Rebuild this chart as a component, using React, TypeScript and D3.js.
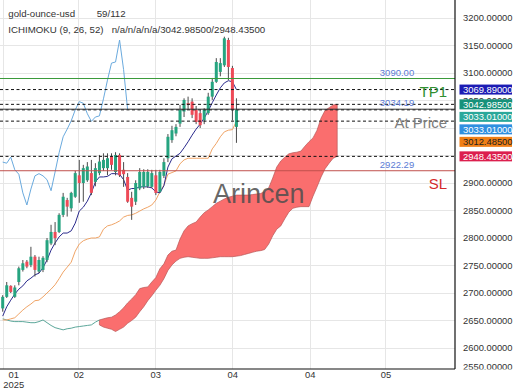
import React from "react";
import * as d3 from "d3";

// ---------- data ----------
const opens = [2672, 2693, 2713, 2693, 2720, 2742, 2757, 2751, 2766, 2739, 2742, 2760, 2790, 2811, 2811, 2842, 2869, 2854, 2875, 2914, 2900, 2905, 2918, 2902, 2918, 2927, 2927, 2948, 2920, 2951, 2924, 2911, 2873, 2866, 2890, 2893, 2894, 2893, 2914, 2884, 2913, 2945, 2978, 2990, 3008, 3030, 3045, 3048, 3033, 3027, 3014, 3027, 3057, 3084, 3102, 3114, 3160, 3109, 3002];
const highs = [2696, 2720, 2714, 2714, 2748, 2760, 2760, 2784, 2769, 2766, 2767, 2800, 2824, 2829, 2845, 2882, 2873, 2884, 2922, 2942, 2933, 2938, 2942, 2936, 2951, 2954, 2954, 2954, 2956, 2954, 2938, 2918, 2884, 2905, 2927, 2925, 2925, 2924, 2924, 2924, 2945, 2989, 3004, 3007, 3042, 3054, 3057, 3054, 3040, 3033, 3036, 3064, 3091, 3127, 3127, 3166, 3164, 3113, 3054];
const lows = [2666, 2691, 2700, 2691, 2714, 2739, 2745, 2747, 2730, 2736, 2738, 2756, 2787, 2787, 2809, 2838, 2839, 2848, 2873, 2864, 2866, 2902, 2878, 2894, 2914, 2922, 2914, 2924, 2914, 2911, 2893, 2864, 2833, 2860, 2887, 2889, 2891, 2891, 2878, 2882, 2909, 2938, 2973, 2985, 3002, 3020, 3033, 3018, 3007, 3000, 3007, 3024, 3051, 3082, 3094, 3111, 3087, 3014, 2973];
const closes = [2693, 2714, 2702, 2710, 2745, 2754, 2748, 2766, 2742, 2760, 2764, 2796, 2811, 2800, 2842, 2875, 2857, 2882, 2918, 2900, 2927, 2930, 2882, 2927, 2939, 2942, 2945, 2933, 2951, 2914, 2916, 2866, 2857, 2900, 2920, 2920, 2920, 2918, 2882, 2920, 2938, 2984, 2996, 3002, 3033, 3051, 3042, 3024, 3011, 3005, 3033, 3057, 3084, 3120, 3118, 3163, 3111, 3033, 3033.01];

const tenkan = [2658, 2675, 2687, 2698, 2707, 2713, 2722, 2727, 2733, 2736, 2746, 2760, 2778, 2791, 2802, 2809, 2809, 2813, 2827, 2849, 2856, 2867, 2882, 2902, 2911, 2911, 2912, 2917, 2917, 2916, 2906, 2887, 2890, 2890, 2893, 2893, 2893, 2891, 2884, 2882, 2895, 2929, 2944, 2949, 2954, 2964, 2975, 2987, 2998, 3007, 3018, 3031, 3046, 3060, 3073, 3082, 3086, 3084, 3069.89];
const kijun = [2651, 2651, 2653, 2655, 2662, 2669, 2675, 2680, 2686, 2687, 2693, 2700, 2707, 2715, 2726, 2738, 2747, 2756, 2776, 2789, 2795, 2798, 2800, 2800, 2802, 2816, 2822, 2824, 2827, 2831, 2838, 2841, 2842, 2845, 2849, 2853, 2856, 2860, 2869, 2884, 2896, 2916, 2919, 2922, 2935, 2942, 2945, 2945, 2945, 2945, 2945, 2945, 2962, 2972, 2984, 2993, 2996, 2997, 3012.485];
const chikou = [2938, 2936, 2947, 2924, 2916, 2882, 2860, 2889, 2913, 2917, 2913, 2906, 2886, 2920, 2955, 2984, 2998, 3013, 3033, 3048, 3045, 3026, 3012, 3020, 3022, 3053, 3087, 3118, 3120, 3160, 3106, 3033.01];
const leadLine = [2653, 2651, 2649, 2648, 2648, 2648, 2647, 2646, 2646, 2648, 2651, 2646, 2641, 2637, 2635, 2633, 2635, 2636, 2638, 2639, 2640, 2641, 2642, 2647, 2651];
const CLOUD_START = 24;
const spanA = [2651, 2653, 2655, 2656, 2660, 2666, 2673, 2682, 2689, 2697, 2708, 2710, 2711, 2720, 2728, 2744, 2753, 2769, 2776, 2778, 2798, 2813, 2822, 2826, 2829, 2838, 2846, 2851, 2857, 2863, 2867, 2871, 2874, 2876, 2878, 2878, 2878, 2878, 2879, 2880, 2881, 2884, 2891, 2909, 2929, 2940, 2947, 2953, 2955, 2956, 2958, 2967, 2975, 2982, 2996, 3018, 3032, 3037, 3042, 3042.985];
const spanB = [2642, 2638, 2636, 2634, 2630, 2634, 2638, 2645, 2650, 2656, 2666, 2675, 2686, 2695, 2705, 2714, 2726, 2741, 2751, 2758, 2763, 2765, 2766, 2765, 2764, 2763, 2763, 2763, 2764, 2765, 2766, 2766, 2766, 2766, 2767, 2768, 2770, 2772, 2774, 2776, 2777, 2779, 2789, 2804, 2816, 2822, 2835, 2847, 2854, 2856, 2857, 2857, 2857, 2876, 2893, 2911, 2926, 2936, 2945, 2948.435];

const TOTAL_SLOTS = 112;
const xTickIdx = [2.75, 18.9, 38, 57.1, 76.3, 95.1];
const xGridIdx = [0.3, 18.9, 38, 57.1, 76.3, 95.1];
const xTickLabels = ["01", "02", "03", "04", "04", "05"];
const yTickValues = d3.range(2550, 3201, 50);

const levelPrices = [3090, 3034.19, 2922.29];
const levelTags = ["TP1", "At Price", "SL"];
const dashedLevels = [3069.89, 3042.985, 3033.01, 3012.485, 2948.435];
const axisTagValues = [3069.89, 3042.985, 3033.01, 3033.01, 3012.485, 2948.435];

// ---------- styles ----------
const FONT = '"Liberation Sans", Arial, Helvetica, sans-serif';
const UP = "#26a480";
const DOWN = "#ee4a57";
const levelLineColors = ["#3b9a3b", "#333333", "#c0504d"];
const levelTagColors = ["#2f8f2f", "#7d7d7d", "#d42a2a"];
const axisTagFill = ["#1c1cb4", "#17917a", "#2aa89a", "#2f8fe0", "#f07f16", "#dc1f4e"];
const axisTagText = ["#ffffff", "#ffffff", "#ffffff", "#ffffff", "#222222", "#ffffff"];

export default function App() {
  const W = 520, H = 390;
  const plotRight = 455, plotBottom = 369;
  const x = d3.scaleLinear().domain([0, TOTAL_SLOTS - 1]).range([2.7, 2.7 + (TOTAL_SLOTS - 1) * 4.03]);
  const y = d3.scaleLinear().domain([2600, 3200]).range([348, 18]);

  const mkLine = (offset: number) =>
    d3.line<number>().x((_, i) => x(i + offset)).y((v) => y(v));
  const cloud = d3
    .area<number>()
    .x((_, i) => x(i + CLOUD_START))
    .y0((_, i) => y(spanB[i]))
    .y1((v) => y(v));

  let prev = -Infinity;
  const tags = axisTagValues.map((v, i) => {
    const cy = Math.max(y(v), prev + 12.5);
    prev = cy;
    return { v, cy, i };
  });

  const fmt5 = d3.format(".5f");
  const fmt2 = d3.format(".2f");

  return (
    <svg width={W} height={H} style={{ position: "absolute", left: 0, top: 0, background: "#fff" }} fontFamily={FONT}>
      <defs>
        <clipPath id="axisClip">
          <rect x={455} y={0} width={65} height={plotBottom + 0.5} />
        </clipPath>
        <clipPath id="plotClip">
          <rect x={0} y={0} width={plotRight} height={plotBottom} />
        </clipPath>
      </defs>

      {/* grid */}
      <g stroke="#e6e6e6" strokeWidth={1} shapeRendering="crispEdges">
        {yTickValues.filter((v) => y(v) < plotBottom).map((v) => (
          <line key={v} x1={0} x2={plotRight} y1={y(v)} y2={y(v)} />
        ))}
        {xGridIdx.map((t, i) => (
          <line key={i} x1={x(t)} x2={x(t)} y1={0} y2={plotBottom} />
        ))}
      </g>

      {/* header */}
      <g fill="#333" fontSize={9.7}>
        <text x={8.3} y={16.7}>gold-ounce-usd</text>
        <text x={96.7} y={16.7}>{`${closes.length}/${TOTAL_SLOTS}`}</text>
        <text x={8.3} y={32.5}>ICHIMOKU (9, 26, 52)</text>
        <text x={111.7} y={32.5}>{`n/a/n/a/n/a/${fmt5(spanA[spanA.length - 1])}/${fmt5(spanB[spanB.length - 1])}`}</text>
      </g>

      <g clipPath="url(#plotClip)">
        {/* cloud */}
        <path d={cloud(spanA) || ""} fill="#fa6e6e" stroke="#b85858" strokeWidth={0.7} />
        <path d={mkLine(0)(leadLine) || ""} fill="none" stroke="#5ca79a" strokeWidth={1} />
        {/* lines */}
        <path d={mkLine(0)(kijun) || ""} fill="none" stroke="#f0a466" strokeWidth={1} />
        <path d={mkLine(0)(tenkan) || ""} fill="none" stroke="#2a2a8c" strokeWidth={1} />
        <path d={mkLine(0)(chikou) || ""} fill="none" stroke="#6aaade" strokeWidth={1} />

        {/* candles */}
        {opens.map((o, i) => {
          const c = closes[i];
          const up = c >= o;
          const cx = x(i);
          const top = y(Math.max(o, c));
          const h = Math.max(1, Math.abs(y(o) - y(c)));
          return (
            <g key={i}>
              <line x1={cx} x2={cx} y1={y(highs[i])} y2={y(lows[i])} stroke="#4a4a4a" strokeWidth={1} />
              <rect x={cx - 1.5} width={3} y={top} height={h} fill={up ? UP : DOWN} />
            </g>
          );
        })}

        {/* level lines */}
        {dashedLevels.map((v, i) => (
          <line key={i} x1={0} x2={plotRight} y1={y(v)} y2={y(v)} stroke="#111" strokeWidth={1} strokeDasharray="3,2.5" />
        ))}
        {levelPrices.map((v, i) => (
          <g key={i}>
            <line x1={0} x2={plotRight} y1={y(v)} y2={y(v)} stroke={levelLineColors[i]} strokeWidth={1} />
            <text x={397} y={y(v) - 2.7} fontSize={9.5} fill="#5b7bd5" textAnchor="middle">{fmt2(v)}</text>
            <text x={447} y={y(v) + 18.5} fontSize={15} fill={levelTagColors[i]} textAnchor="end">{levelTags[i]}</text>
          </g>
        ))}

        <text x={213} y={203.3} fontSize={27} fill="#4d4d4d" fillOpacity={0.85}>Arincen</text>
      </g>

      {/* axes frame */}
      <line x1={plotRight} x2={plotRight} y1={0} y2={plotBottom} stroke="#111" strokeWidth={1.2} />
      <line x1={0} x2={plotRight} y1={plotBottom} y2={plotBottom} stroke="#111" strokeWidth={1.2} />

      {/* y tick labels */}
      <g clipPath="url(#axisClip)" fontSize={9.4} fill="#333">
        {yTickValues.map((v) => (
          <text key={v} x={463} y={Math.min(y(v), plotBottom - 2) + 3.4}>{fmt5(v)}</text>
        ))}
      </g>

      {/* axis tags */}
      {tags.map((t) => (
        <g key={t.i}>
          <rect x={459.5} y={t.cy - 5} width={52.5} height={10} fill={axisTagFill[t.i]} />
          <text x={463} y={t.cy + 3.4} fontSize={9.4} fill={axisTagText[t.i]}>{fmt5(t.v)}</text>
        </g>
      ))}

      {/* x tick labels */}
      <g fontSize={9.4} fill="#333" textAnchor="middle">
        {xTickIdx.map((t, i) => (
          <text key={i} x={x(t)} y={378}>{xTickLabels[i]}</text>
        ))}
        <text x={x(xTickIdx[0])} y={387.5}>2025</text>
      </g>
    </svg>
  );
}
